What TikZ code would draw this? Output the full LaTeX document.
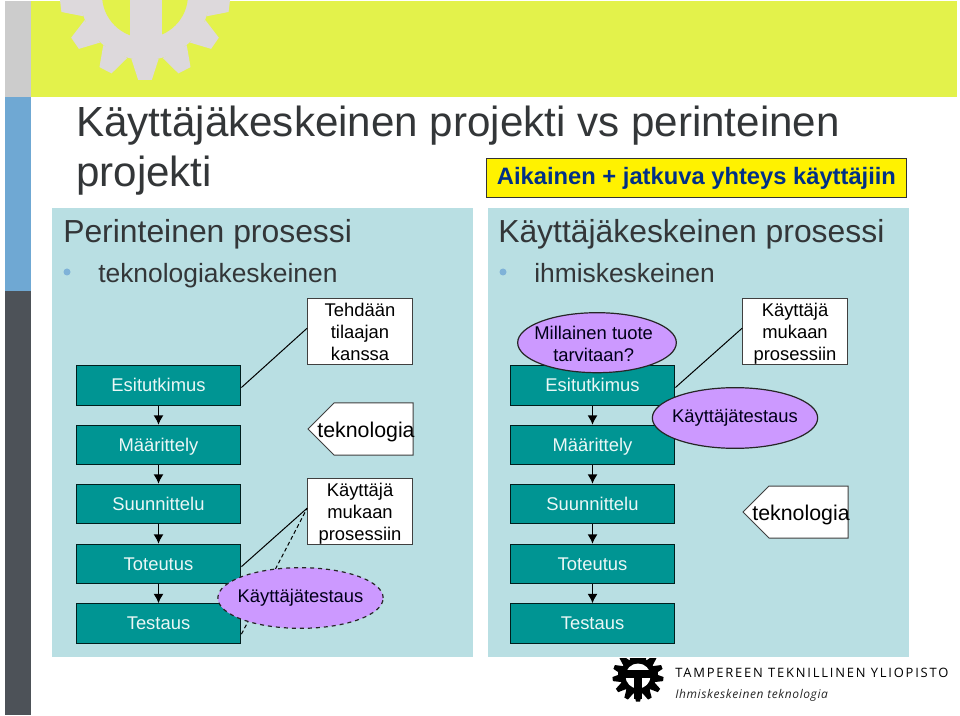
\documentclass[tikz,border=0pt]{standalone}
\usepackage{fontspec}
\setmainfont{Liberation Sans}
\newfontfamily\logofont[LetterSpace=14]{Open Sans}
\newfontfamily\logoslant[LetterSpace=5]{Open Sans}
\usetikzlibrary{shapes.geometric, arrows.meta, positioning}
\definecolor{bandgreen}{HTML}{E3F24B}
\definecolor{gearshade}{HTML}{DDD9DC}
\definecolor{stripgray}{HTML}{CCCCCC}
\definecolor{stripblue}{HTML}{6FA8D3}
\definecolor{stripdark}{HTML}{4D5258}
\definecolor{panelblue}{HTML}{B9DFE3}
\definecolor{boxteal}{HTML}{009593}
\definecolor{ovalviolet}{HTML}{CC99FF}
\definecolor{titlegray}{HTML}{333638}
\definecolor{navytext}{HTML}{003087}
\definecolor{bulletblue}{HTML}{7FB2D8}
\tikzset{
  phase/.style={draw=black!80!boxteal, fill=boxteal, text=white!92!boxteal, line width=0.9pt,
    minimum width=123.5pt, minimum height=29.5pt, inner sep=0pt, text height=10pt, text depth=1pt,
    font=\fontsize{13.8}{16}\selectfont},
  note/.style={draw=black!75, fill=white, line width=0.75pt, minimum width=78.5pt, minimum height=50pt,
    inner sep=0pt, align=center, font=\fontsize{13.8}{16.5}\selectfont},
  oval/.style={ellipse, draw=black!85, fill=ovalviolet, line width=0.9pt, inner sep=-20pt, align=center,
    font=\fontsize{13.8}{16.5}\selectfont, text=black!90!blue},
  flow/.style={-{Latex[length=7pt,width=7.5pt]}, line width=1pt},
  tag/.style={inner sep=0pt, anchor=base west, text=titlegray},
  arrowtext/.style={font=\fontsize{16}{18}\selectfont, inner sep=0pt},
  arrowbox/.style={draw=black!75, fill=white, line width=0.75pt},
}
% one gear wheel: centre, root radius, outer radius, colour
\newcommand{\gearwheel}[4]{
  \fill[#4] (#1) circle (#2);
  \foreach \n in {0,...,12}{
    \fill[#4, shift={(#1)}, rotate=\n*360/13] (-0.16*#3,#2-1) -- (-0.08*#3,#3) -- (0.08*#3,#3) -- (0.16*#3,#2-1) -- cycle;
  }
}
\begin{document}
\begin{tikzpicture}[x=0.75pt, y=-0.75pt]
\useasboundingbox (0,0) rectangle (960,716);

% page furniture
\fill[stripgray] (5,1) rectangle (31,97);
\fill[stripblue] (5,97) rectangle (31,291);
\fill[stripdark] (5,291) rectangle (31,715);
\fill[bandgreen] (31,1) rectangle (957,97);
\begin{scope}
  \clip (31,1) rectangle (957,97);
  \gearwheel{145,-5}{65}{85}{gearshade}
  \fill[bandgreen] (145,-5) circle (43);
  \fill[gearshade] (130,-10) rectangle (162,45);
\end{scope}

% logo
\begin{scope}
  \clip (600,658) rectangle (680,716);
  \gearwheel{638,676}{18}{25.5}{black}
  \fill[white] (638,676) circle (12.5);
  \fill[black] (618,670) rectangle (658,678);
  \fill[black] (634,676) rectangle (642,699);
\end{scope}
\node [tag, text=black] (logoname) at (675,677) {\logofont\fontsize{9.7}{11}\selectfont TAMPEREEN TEKNILLINEN YLIOPISTO};
\node [tag, text=black!85] (logoline) at (675,698) {\logoslant\itshape\fontsize{9}{11}\selectfont Ihmiskeskeinen teknologia};

% title
\node [tag] (title1) at (76,137) {\fontsize{31.6}{36}\selectfont Käyttäjäkeskeinen projekti vs perinteinen};
\node [tag] (title2) at (76,187) {\fontsize{31.6}{36}\selectfont projekti};
\node [draw=black!80, fill=yellow, line width=1pt, minimum width=315pt, minimum height=29pt, inner sep=0pt,
  text=navytext, font=\bfseries\fontsize{17.8}{20}\selectfont] (slogan) at (696.5,178) {Aikainen + jatkuva yhteys käyttäjiin};

% panels
\fill[panelblue] (52,208) rectangle (473,657);
\fill[panelblue] (488,208) rectangle (909,657);
\node [tag] (lefthead) at (63,243) {\fontsize{23.9}{27}\selectfont Perinteinen prosessi};
\node [tag] (righthead) at (498,243) {\fontsize{23.9}{27}\selectfont Käyttäjäkeskeinen prosessi};
\node [tag] (leftsub) at (98,283) {\fontsize{19.8}{22}\selectfont teknologiakeskeinen};
\node [tag] (rightsub) at (534,283) {\fontsize{19.8}{22}\selectfont ihmiskeskeinen};
\fill[bulletblue] (67,272) circle (3.5);
\fill[bulletblue] (503,272) circle (3.5);

% phase columns
\foreach \side/\xc in {l/158.5,r/592.5}{
  \foreach \name/\yc/\txt in {a/385.5/Esitutkimus,b/445/Määrittely,c/504/Suunnittelu,d/564/Toteutus,e/623.5/Testaus}{
    \node [phase] (\side\name) at (\xc,\yc) {\txt};
  }
  \draw[flow] (\side a) -- (\side b);
  \draw[flow] (\side b) -- (\side c);
  \draw[flow] (\side c) -- (\side d);
  \draw[flow] (\side d) -- (\side e);
}

% left side notes
\node [note] (ltilaaja) at (360,331.5) {\rule{0pt}{13pt}Tehdään\\tilaajan\\kanssa\rule[-3pt]{0pt}{3pt}};
\node [note] (lmukaan) at (360,511.5) {\rule{0pt}{13pt}Käyttäjä\\mukaan\\prosessiin};
\draw[arrowbox] (413,403) -- (334,403) -- (308,429) -- (334,455) -- (413,455) -- cycle;
\node [arrowtext] (ltek) at (366,431.5) {teknologia};
\draw[line width=0.75pt] ([yshift=-1.5pt]la.east) -- ([yshift=2.5pt]ltilaaja.west);
\draw[line width=0.75pt] ([yshift=-2pt]ld.east) -- ([yshift=2.5pt]lmukaan.west);
\draw[line width=0.75pt, dashed, dash pattern=on 3pt off 2pt] ([yshift=-8pt]le.east) -- ([yshift=2.5pt]lmukaan.west);
\node [oval, dashed, minimum width=124pt, minimum height=45.5pt] (ltest) at (300.5,598) {Käyttäjätestaus};

% right side notes
\node [note] (rmukaan) at (795,331.5) {\rule{0pt}{13pt}Käyttäjä\\mukaan\\prosessiin};
\draw[line width=0.75pt] ([yshift=-1.5pt]ra.east) -- ([yshift=2.5pt]rmukaan.west);
\node [oval, minimum width=124pt, minimum height=45.5pt] (rtest) at (735,418) {Käyttäjätestaus};
\node [oval, minimum width=119pt, minimum height=45pt] (rtuote) at (597,342.7) {\rule{0pt}{11.5pt}Millainen tuote\hspace*{5pt}\\tarvitaan?\hspace*{5pt}};
\draw[arrowbox] (848,486) -- (769,486) -- (743,512) -- (769,538) -- (848,538) -- cycle;
\node [arrowtext] (rtek) at (801,514.5) {teknologia};

\end{tikzpicture}
\end{document}
